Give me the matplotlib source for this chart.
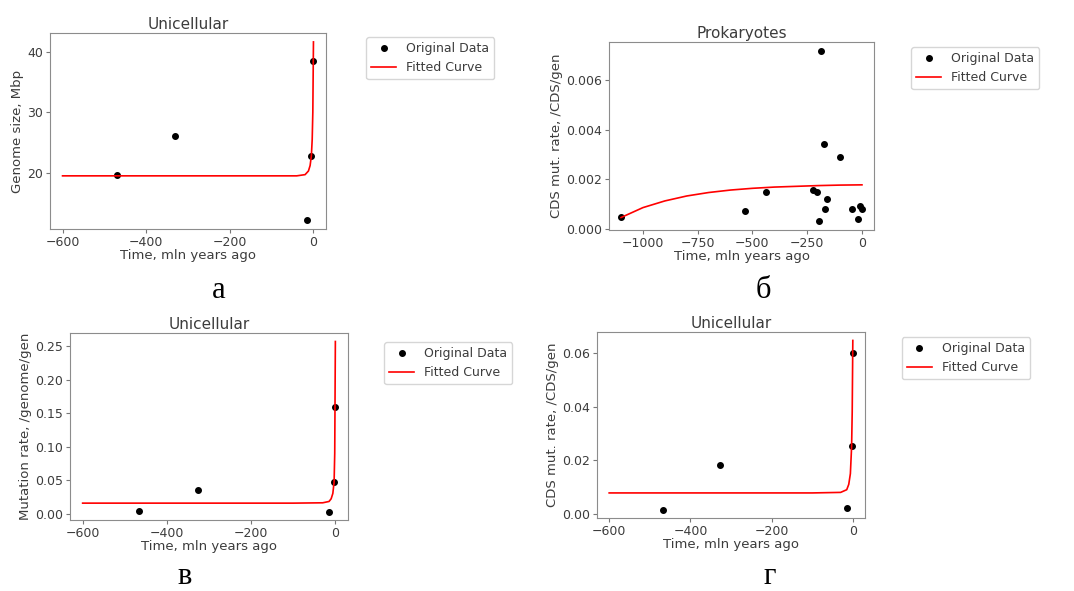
import numpy as np
import matplotlib.pyplot as plt
from matplotlib.ticker import MultipleLocator

# Observed points and fitted curves for the four panels
# (a) genome size, unicellular
t_a = [-470, -330, -15, -5, 0]
y_a = [19.6, 26.0, 12.2, 22.8, 38.5]
fit_t_a = [-600, -100, -40, -20, -12, -8, -5, -3, -1.5, 0]
fit_y_a = [19.5, 19.5, 19.5, 19.7, 20.3, 21.2, 22.8, 25.5, 30.0, 41.6]

# (б) CDS mutation rate, prokaryotes
t_b = [-1100, -535, -438, -222, -206, -197, -185, -172, -171, -160, -98, -45, -18, -8, 0]
y_b = [0.00045, 0.00072, 0.00147, 0.00155, 0.00147, 0.00029, 0.0072, 0.00343,
       0.00079, 0.00121, 0.00288, 0.00079, 0.00040, 0.00091, 0.00080]
fit_t_b = [-1100, -1000, -900, -800, -700, -600, -500, -400, -300, -200, -100, 0]
fit_y_b = [0.00045, 0.00085, 0.00112, 0.00132, 0.00146, 0.00156, 0.00163,
           0.00168, 0.00171, 0.00174, 0.00176, 0.00177]

# (в) mutation rate per genome, unicellular
t_c = [-467, -326, -14, -3, 0]
y_c = [0.0035, 0.0355, 0.003, 0.047, 0.1585]
fit_t_c = [-600, -100, -30, -15, -10, -6, -3, -1.5, 0]
fit_y_c = [0.0155, 0.0155, 0.016, 0.018, 0.022, 0.030, 0.047, 0.09, 0.257]

# (г) CDS mutation rate, unicellular
t_d = [-468, -327, -15, -3, 0]
y_d = [0.0016, 0.0181, 0.0022, 0.0252, 0.060]
fit_t_d = [-600, -100, -30, -15, -10, -6, -3, -1.5, 0]
fit_y_d = [0.0078, 0.0078, 0.008, 0.009, 0.011, 0.015, 0.025, 0.038, 0.0647]

panels = [
    ('Unicellular', 'Genome size, Mbp', t_a, y_a, fit_t_a, fit_y_a, 'а', 200, 10),
    ('Prokaryotes', 'CDS mut. rate, /CDS/gen', t_b, y_b, fit_t_b, fit_y_b, 'б', 250, 0.002),
    ('Unicellular', 'Mutation rate, /genome/gen', t_c, y_c, fit_t_c, fit_y_c, 'в', 200, 0.05),
    ('Unicellular', 'CDS mut. rate, /CDS/gen', t_d, y_d, fit_t_d, fit_y_d, 'г', 200, 0.02),
]

W, H = 1074, 591
# axes boxes in pixels: left, right, top, bottom
boxes = [(50, 326, 33, 229), (609, 874, 42, 230), (70, 348, 333, 520), (597, 865, 332, 518)]
legend_pos = [(366, 37), (911, 47), (384, 342), (902, 337)]
letter_pos = [(219, 290), (763, 290), (185, 577), (770, 577)]

txt = '#3c3c3c'
plt.rcParams['font.family'] = 'DejaVu Sans'
fig = plt.figure(figsize=(W / 100, H / 100), dpi=100)

for (title, ylab, t, y, ft, fy, letter, xstep, ystep), (l, r, top, b), (lx, ly), (px, py) in zip(
        panels, boxes, legend_pos, letter_pos):
    ax = fig.add_axes([l / W, (H - b) / H, (r - l) / W, (b - top) / H])
    ax.plot(t, y, 'o', color='black', markersize=4, label='Original Data')
    ax.plot(ft, fy, '-', color='red', linewidth=1.2, label='Fitted Curve')
    ax.xaxis.set_major_locator(MultipleLocator(xstep))
    ax.yaxis.set_major_locator(MultipleLocator(ystep))
    ax.set_title(title, fontsize=11, color=txt, pad=3)
    ax.set_xlabel('Time, mln years ago', fontsize=9.5, color=txt, labelpad=0)
    ax.set_ylabel(ylab, fontsize=9.5, color=txt, labelpad=2)
    ax.tick_params(labelsize=9, colors='#777777', labelcolor=txt, length=3, pad=2)
    for s in ax.spines.values():
        s.set_color('#8c8c8c')
    leg = ax.legend(loc='upper left', bbox_to_anchor=(lx / W, 1 - ly / H),
                    bbox_transform=fig.transFigure, fontsize=9, frameon=True,
                    borderaxespad=0)
    for tx in leg.get_texts():
        tx.set_color(txt)
    fig.text(px / W, 1 - py / H, letter, fontsize=22, family='Liberation Serif',
             ha='center', va='center', color='black')

fig.savefig('out.png', dpi=100)
